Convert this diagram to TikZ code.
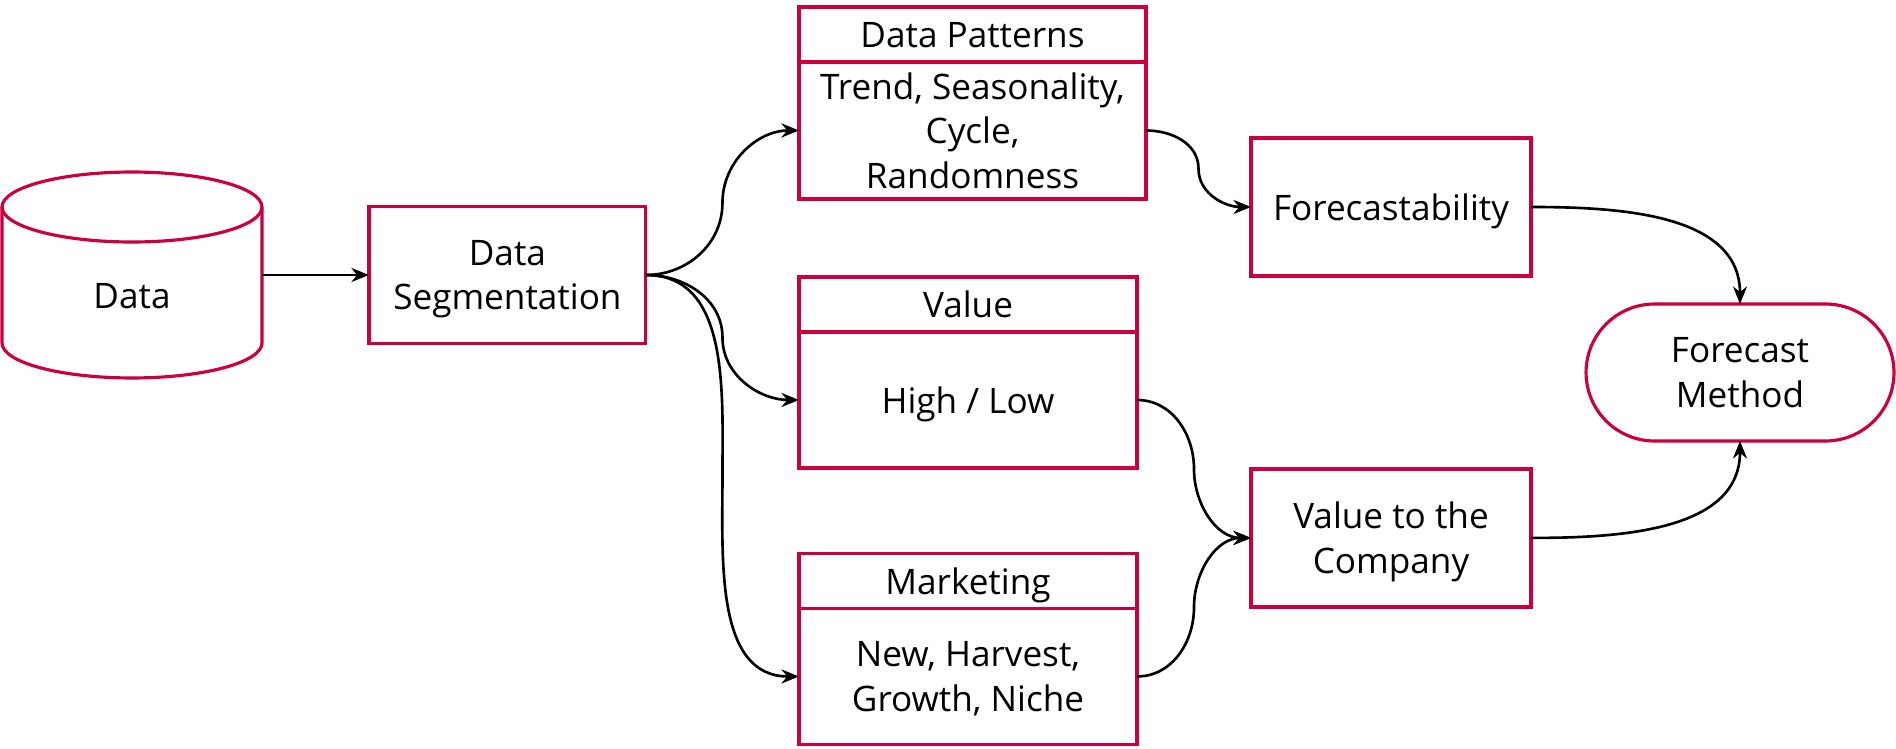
\documentclass[tikz,border=0pt]{standalone}
\usepackage{fontspec}
\setmainfont{Open Sans}
\usetikzlibrary{arrows.meta,positioning,calc}
\definecolor{crimson}{RGB}{204,0,60}

\begin{document}
\begin{tikzpicture}[
  x=0.02cm, y=-0.02cm,
  font=\fontsize{20}{25.5}\selectfont,
  box/.style={draw=crimson, line width=1.8pt, outer sep=0pt, minimum width=5.6cm, minimum height=2.76cm, align=center, inner sep=2pt, text depth=0pt},
  head/.style={box, minimum width=#1, minimum height=1.1cm},
  body/.style={box, minimum width=#1, minimum height=2.74cm},
  pill/.style={box, rounded corners=1.37cm, minimum width=6.16cm, minimum height=2.74cm},
  cyl/.style={draw=crimson, line width=1.8pt},
  arr/.style={-{Stealth[length=10pt, width=8pt]}, line width=1.5pt},
]
\useasboundingbox (0,0) rectangle (1896,749);

% --- Source ---
\node[minimum width=5.2cm, minimum height=4.12cm, outer sep=0pt] (data) at (132,275) {};
\draw[cyl] ([yshift=-0.7cm]data.north west) -- ([yshift=0.7cm]data.south west)
  arc[start angle=180, end angle=360, x radius=2.6cm, y radius=0.7cm] -- ([yshift=-0.7cm]data.north east);
\draw[cyl] ([yshift=-0.7cm]data.north) ellipse[x radius=2.6cm, y radius=0.7cm];
\node (datatext) at ([yshift=-0.42cm]data.center) {Data};

\node[box, minimum width=5.54cm, minimum height=2.74cm, right=2.14cm of data] (seg) {Data\\Segmentation};

% --- Middle column ---
\node[head=6.94cm] (pathead) at (972.5,34.5) {Data Patterns};
\node[body=6.94cm, below=0pt of pathead] (patbody) {Trend, Seasonality,\\Cycle,\\Randomness};

\node[head=6.76cm] (valhead) at (968,304.5) {Value};
\node[body=6.76cm, minimum height=2.72cm, below=0pt of valhead] (valbody) {High / Low};

\node[head=6.76cm] (mkthead) at (968,581) {Marketing};
\node[body=6.76cm, minimum height=2.72cm, below=0pt of mkthead] (mktbody) {New, Harvest,\\Growth, Niche};

% --- Right column ---
\node[box] (fcast) at (1391,207) {Forecastability};
\node[box, below=3.86cm of fcast] (company) {Value to the\\Company};
\node[pill] (method) at (1740,372.5) {Forecast\\Method};

% --- Bend points halfway between columns ---
\coordinate (m1) at ($(seg.east)!0.5!(patbody.west)$);
\coordinate (m2) at ($(seg.east)!0.5!(valbody.west)$);
\coordinate (m3) at ($(seg.east)!0.5!(mktbody.west)$);
\coordinate (m4) at ($(patbody.east)!0.5!(fcast.west)$);
\coordinate (m5) at ($(valbody.east)!0.5!(company.west)$);
\coordinate (m6) at ($(mktbody.east)!0.5!(company.west)$);

% --- Arrows ---
\draw[arr] (data) -- (seg);
\draw[arr] (seg.east) to[out=0, in=-90] (m1) to[out=90, in=180] (patbody.west);
\draw[arr] (seg.east) to[out=0, in=90] (m2) to[out=-90, in=180] (valbody.west);
\draw[arr] (seg.east) to[out=0, in=90] (m3) to[out=-90, in=180] (mktbody.west);
\draw[arr] (patbody.east) to[out=0, in=90] (m4) to[out=-90, in=180] (fcast.west);
\draw[arr] (valbody.east) to[out=0, in=90] (m5) to[out=-90, in=180] (company.west);
\draw[arr] (mktbody.east) to[out=0, in=-90] (m6) to[out=90, in=180] (company.west);
\draw[arr] (fcast.east) to[out=0, in=90] (method.north);
\draw[arr] (company.east) to[out=0, in=-90] (method.south);
\end{tikzpicture}
\end{document}
